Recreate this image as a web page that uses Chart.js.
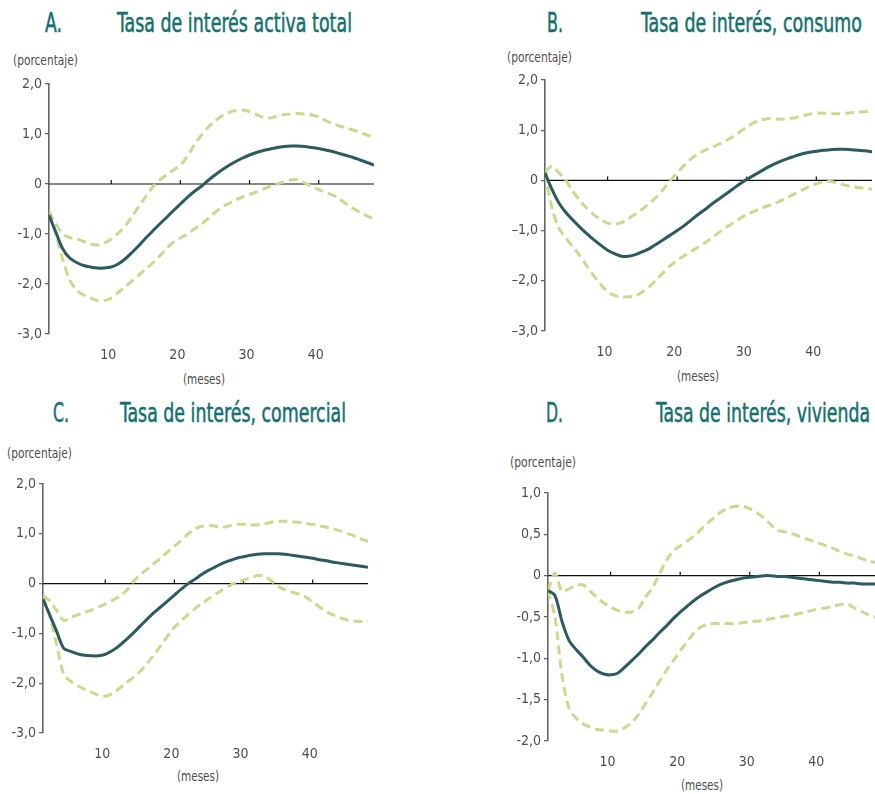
<!DOCTYPE html>
<html><head><meta charset="utf-8">
<script src="https://cdn.jsdelivr.net/npm/chart.js@4"></script>
<style>
html,body{margin:0;padding:0;background:#fff;}
body{width:875px;height:794px;position:relative;overflow:hidden;font-family:'DejaVu Sans Condensed','DejaVu Sans',sans-serif;font-stretch:condensed;}
.t{position:absolute;color:#13706f;font-size:26px;line-height:26px;white-space:nowrap;transform-origin:left center;-webkit-text-stroke:0.5px #13706f;}
.u{position:absolute;color:#4d4d4d;font-size:14.5px;line-height:15px;white-space:nowrap;transform-origin:left center;}
canvas{position:absolute;}
</style></head><body>
<div class="t" data-w="17" style="left:45px;top:10px">A.</div>
<div class="t" data-w="235" style="left:117px;top:10px">Tasa de interés activa total</div>
<div class="t" data-w="16" style="left:547px;top:10px">B.</div>
<div class="t" data-w="221" style="left:641px;top:10px">Tasa de interés, consumo</div>
<div class="t" data-w="16" style="left:53px;top:400px">C.</div>
<div class="t" data-w="226" style="left:120px;top:400px">Tasa de interés, comercial</div>
<div class="t" data-w="17" style="left:546px;top:400px">D.</div>
<div class="t" data-w="214" style="left:656px;top:400px">Tasa de interés, vivienda</div>

<div class="u" data-w="65" style="left:13px;top:53px">(porcentaje)</div>
<div class="u" data-w="65" style="left:507px;top:50px">(porcentaje)</div>
<div class="u" data-w="65" style="left:7px;top:446px">(porcentaje)</div>
<div class="u" data-w="66" style="left:510px;top:455px">(porcentaje)</div>
<div class="u" data-w="42" style="left:183px;top:372px">(meses)</div>
<div class="u" data-w="42" style="left:677px;top:369px">(meses)</div>
<div class="u" data-w="42" style="left:177px;top:769px">(meses)</div>
<div class="u" data-w="42" style="left:681px;top:778px">(meses)</div>

<canvas id="cA" width="400" height="310" style="left:0px;top:70px"></canvas>
<canvas id="cB" width="385" height="310" style="left:490px;top:66px"></canvas>
<canvas id="cC" width="400" height="310" style="left:0px;top:470px"></canvas>
<canvas id="cD" width="385" height="310" style="left:490px;top:479px"></canvas>

<script>
// ---- data ----
const months = [1,2,3,4,5,6,7,8,9,10,11,12,13,14,15,16,17,18,19,20,21,22,23,24,25,26,27,28,29,30,31,32,33,34,35,36,37,38,39,40,41,42,43,44,45,46,47,48];
const xTickValues = [10,20,30,40];
const xTickLabels = ['10','20','30','40'];

const yTickValuesABC = [-3,-2,-1,0,1,2];
const yTickLabelsA = ['-3,0','-2,0','-1,0','0','1,0','2,0'];
const yTickLabelsB = ['–3,0','–2,0','–1,0','0','1,0','2,0'];
const yTickLabelsC = ['-3,0','-2,0','-1,0','0','1,0','2,0'];
const yTickValuesD = [-2,-1.5,-1,-0.5,0,0.5,1];
const yTickLabelsD = ['-2,0','-1,5','-1,0','-0,5','0','0,5','1,0'];

// A. Tasa de interés activa total
const aCentral = [-0.62,-0.97,-1.30,-1.48,-1.57,-1.63,-1.66,-1.68,-1.68,-1.66,-1.60,-1.50,-1.37,-1.23,-1.08,-0.94,-0.80,-0.67,-0.53,-0.40,-0.27,-0.15,-0.05,0.07,0.18,0.28,0.37,0.45,0.52,0.58,0.63,0.67,0.70,0.73,0.75,0.76,0.76,0.75,0.73,0.71,0.68,0.65,0.61,0.57,0.53,0.48,0.43,0.38];
const aUpper = [-0.55,-0.80,-1.00,-1.07,-1.10,-1.15,-1.20,-1.22,-1.18,-1.10,-0.98,-0.85,-0.65,-0.45,-0.25,-0.06,0.08,0.18,0.28,0.38,0.55,0.78,0.97,1.13,1.26,1.36,1.43,1.47,1.48,1.45,1.39,1.33,1.32,1.36,1.39,1.40,1.41,1.40,1.38,1.34,1.27,1.21,1.16,1.12,1.08,1.03,0.98,0.93];
const aLower = [-0.58,-1.00,-1.52,-1.92,-2.12,-2.22,-2.28,-2.33,-2.33,-2.28,-2.17,-2.06,-1.94,-1.82,-1.70,-1.58,-1.44,-1.29,-1.16,-1.08,-1.00,-0.90,-0.81,-0.69,-0.57,-0.46,-0.39,-0.32,-0.26,-0.21,-0.16,-0.10,-0.05,0.00,0.04,0.08,0.09,0.02,-0.05,-0.11,-0.17,-0.22,-0.30,-0.40,-0.49,-0.57,-0.64,-0.70];

// B. Tasa de interés, consumo
const bCentral = [0.15,-0.18,-0.45,-0.64,-0.79,-0.93,-1.06,-1.18,-1.29,-1.39,-1.46,-1.51,-1.51,-1.48,-1.42,-1.36,-1.27,-1.18,-1.09,-1.00,-0.90,-0.79,-0.68,-0.58,-0.47,-0.37,-0.27,-0.17,-0.07,0.02,0.10,0.18,0.26,0.33,0.39,0.44,0.49,0.53,0.56,0.58,0.60,0.61,0.62,0.62,0.61,0.60,0.59,0.57];
const bUpper = [0.17,0.28,0.15,0.00,-0.22,-0.40,-0.55,-0.68,-0.78,-0.85,-0.87,-0.84,-0.76,-0.67,-0.57,-0.46,-0.33,-0.18,0.00,0.15,0.30,0.43,0.53,0.60,0.66,0.72,0.79,0.87,0.97,1.06,1.15,1.20,1.23,1.23,1.22,1.23,1.25,1.28,1.32,1.34,1.34,1.33,1.33,1.33,1.35,1.36,1.37,1.38];
const bLower = [0.15,-0.55,-0.95,-1.15,-1.32,-1.50,-1.70,-1.90,-2.07,-2.22,-2.29,-2.32,-2.32,-2.30,-2.22,-2.12,-1.98,-1.84,-1.70,-1.59,-1.50,-1.42,-1.33,-1.24,-1.14,-1.04,-0.94,-0.85,-0.76,-0.68,-0.62,-0.56,-0.51,-0.46,-0.40,-0.33,-0.26,-0.19,-0.12,-0.07,-0.03,-0.02,-0.05,-0.09,-0.12,-0.14,-0.16,-0.17];

// C. Tasa de interés, comercial
const cCentral = [-0.31,-0.64,-0.97,-1.30,-1.36,-1.41,-1.44,-1.45,-1.45,-1.42,-1.35,-1.25,-1.13,-1.00,-0.86,-0.72,-0.59,-0.47,-0.35,-0.23,-0.11,0.00,0.09,0.19,0.27,0.34,0.41,0.46,0.51,0.54,0.57,0.59,0.60,0.60,0.60,0.59,0.57,0.55,0.53,0.51,0.48,0.46,0.43,0.41,0.39,0.37,0.35,0.33];
const cUpper = [-0.24,-0.35,-0.55,-0.74,-0.68,-0.63,-0.58,-0.53,-0.47,-0.41,-0.34,-0.26,-0.15,0.03,0.17,0.28,0.40,0.51,0.63,0.75,0.87,1.00,1.10,1.15,1.17,1.15,1.13,1.16,1.19,1.19,1.18,1.18,1.20,1.23,1.25,1.25,1.24,1.23,1.21,1.19,1.16,1.13,1.10,1.06,1.01,0.96,0.90,0.85];
const cLower = [-0.27,-0.65,-1.25,-1.82,-1.96,-2.05,-2.12,-2.18,-2.24,-2.26,-2.21,-2.11,-2.00,-1.89,-1.77,-1.61,-1.44,-1.25,-1.06,-0.88,-0.75,-0.62,-0.50,-0.40,-0.30,-0.21,-0.12,-0.04,0.03,0.07,0.12,0.16,0.15,0.06,-0.06,-0.12,-0.17,-0.21,-0.27,-0.37,-0.47,-0.56,-0.63,-0.69,-0.73,-0.75,-0.76,-0.75];

// D. Tasa de interés, vivienda
const dCentral = [-0.18,-0.24,-0.55,-0.78,-0.89,-0.98,-1.08,-1.15,-1.19,-1.20,-1.18,-1.11,-1.03,-0.95,-0.86,-0.78,-0.69,-0.61,-0.52,-0.44,-0.37,-0.30,-0.24,-0.19,-0.14,-0.10,-0.07,-0.05,-0.03,-0.02,-0.01,0.00,0.00,-0.01,-0.01,-0.02,-0.03,-0.04,-0.05,-0.06,-0.07,-0.08,-0.08,-0.09,-0.09,-0.10,-0.10,-0.10];
const dUpper = [-0.18,0.03,-0.19,-0.16,-0.12,-0.11,-0.18,-0.26,-0.33,-0.38,-0.42,-0.44,-0.44,-0.40,-0.26,-0.15,0.02,0.18,0.30,0.36,0.42,0.48,0.56,0.64,0.71,0.78,0.82,0.84,0.84,0.81,0.76,0.70,0.62,0.55,0.53,0.51,0.48,0.45,0.42,0.39,0.36,0.33,0.29,0.26,0.24,0.21,0.18,0.16];
const dLower = [-0.18,-0.50,-1.20,-1.60,-1.72,-1.79,-1.83,-1.86,-1.87,-1.88,-1.88,-1.84,-1.78,-1.68,-1.55,-1.42,-1.28,-1.15,-1.03,-0.91,-0.80,-0.69,-0.62,-0.59,-0.58,-0.58,-0.58,-0.58,-0.57,-0.56,-0.55,-0.54,-0.52,-0.51,-0.49,-0.48,-0.46,-0.44,-0.42,-0.40,-0.39,-0.37,-0.35,-0.34,-0.39,-0.43,-0.47,-0.50];

// ---- text fitting (condensed look) ----
document.querySelectorAll('[data-w]').forEach(el => {
  const w = el.getBoundingClientRect().width;
  el.style.transform = 'scaleX(' + (parseFloat(el.dataset.w) / w) + ')';
});

// ---- drawing ----
const FONT = "'DejaVu Sans Condensed','DejaVu Sans',sans-serif";
const DARK = '#2c5b5f';
const LIGHT = '#cbd98e';
const AXIS = '#666666';
const LABEL = '#4d4d4d';

const zeroAxis = {
  id: 'zeroAxis',
  beforeDatasetsDraw(chart) {
    const {ctx, chartArea, scales} = chart;
    const y0 = scales.y.getPixelForValue(0);
    ctx.save();
    ctx.strokeStyle = '#111';
    ctx.lineWidth = 1.2;
    ctx.beginPath();
    ctx.moveTo(chartArea.left, y0);
    ctx.lineTo(chartArea.right, y0);
    xTickValues.forEach(v => {
      const px = scales.x.getPixelForValue(v);
      ctx.moveTo(px, y0);
      ctx.lineTo(px, y0 - 4);
    });
    ctx.stroke();
    ctx.restore();
  }
};

function pts(vals) { return months.map((m, i) => ({x: m, y: vals[i]})); }

function panel(id, central, upper, lower, yVals, yLabels, ymin, ymax, yWidth, xHeight, pad) {
  const dashed = {borderColor: LIGHT, borderWidth: 3, borderDash: [9, 5], pointRadius: 0, tension: 0.3, fill: false};
  new Chart(document.getElementById(id), {
    type: 'line',
    data: {
      datasets: [
        {data: pts(central), borderColor: DARK, borderWidth: 3, pointRadius: 0, tension: 0.3, fill: false},
        Object.assign({data: pts(upper)}, dashed),
        Object.assign({data: pts(lower)}, dashed)
      ]
    },
    options: {
      responsive: false,
      animation: false,
      devicePixelRatio: 1,
      layout: {padding: pad},
      plugins: {legend: {display: false}, tooltip: {enabled: false}},
      scales: {
        x: {
          type: 'linear', min: 1, max: 48,
          afterBuildTicks: s => { s.ticks = xTickValues.map(v => ({value: v})); },
          afterFit: s => { s.height = xHeight; },
          ticks: {callback: (v, i) => xTickLabels[i], font: {family: FONT, size: 14}, color: LABEL, padding: 5, labelOffset: -3, maxRotation: 0, autoSkip: false},
          grid: {display: false},
          border: {display: false}
        },
        y: {
          min: ymin, max: ymax,
          afterBuildTicks: s => { s.ticks = yVals.map(v => ({value: v})); },
          afterFit: s => { s.width = yWidth; },
          ticks: {callback: (v, i) => yLabels[i], font: {family: FONT, size: 14}, color: LABEL, padding: 3, autoSkip: false},
          grid: {display: true, drawOnChartArea: false, drawTicks: true, tickLength: 4, color: AXIS, lineWidth: 1.3},
          border: {display: true, color: AXIS, width: 1.6}
        }
      }
    },
    plugins: [zeroAxis]
  });
}

panel('cA', aCentral, aUpper, aLower, yTickValuesABC, yTickLabelsA, -3, 2, 49, 46, {left: 0, right: 26, top: 14, bottom: 0});
panel('cB', bCentral, bUpper, bLower, yTickValuesABC, yTickLabelsB, -3, 2, 55, 45, {left: 0, right: 3, top: 14, bottom: 0});
panel('cC', cCentral, cUpper, cLower, yTickValuesABC, yTickLabelsC, -3, 2, 43, 47, {left: 0, right: 32, top: 14, bottom: 0});
panel('cD', dCentral, dUpper, dLower, yTickValuesD, yTickLabelsD, -2, 1, 58, 48, {left: 0, right: 0, top: 14, bottom: 0});
</script>
</body></html>
